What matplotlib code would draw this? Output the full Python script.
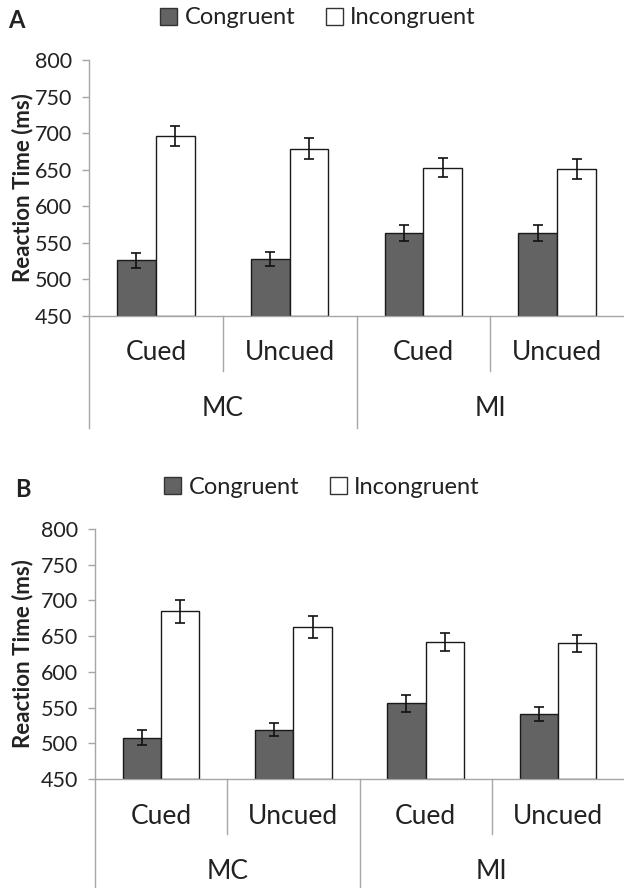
import numpy as np
import matplotlib
matplotlib.use("Agg")
from matplotlib import pyplot as plt
from matplotlib.patches import Patch
import matplotlib.transforms as mtransforms

plt.rcParams['font.family'] = ['Lato', 'DejaVu Sans']

cues = ['Cued', 'Uncued', 'Cued', 'Uncued']
groups = ['MC', 'MI']
yticks = [450, 500, 550, 600, 650, 700, 750, 800]

# panel A
con_A = [526, 528, 564, 563]
con_A_err = [10, 10, 11, 11]
inc_A = [696, 679, 653, 651]
inc_A_err = [14, 15, 13, 14]

# panel B
con_B = [508, 519, 556, 541]
con_B_err = [10, 9, 12, 10]
inc_B = [685, 663, 642, 640]
inc_B_err = [16, 15, 13, 12]

GREY = '#a6a6a6'
DARK = '#636363'

fig = plt.figure(figsize=(6.24, 8.88), dpi=100)


def panel(rect, con, con_err, inc, inc_err, letter, letter_xy, legend_xy):
    ax = fig.add_axes(rect)
    x = np.arange(len(cues)) + 0.5
    w = 0.29
    ax.bar(x - w / 2, np.array(con) - 450, w, bottom=450, color=DARK,
           edgecolor='#1a1a1a', linewidth=1.0, zorder=2)
    ax.bar(x + w / 2, np.array(inc) - 450, w, bottom=450, color='white',
           edgecolor='#1a1a1a', linewidth=1.0, zorder=2)
    ax.errorbar(x - w / 2, con, yerr=con_err, fmt='none', ecolor='#111111',
                elinewidth=1.2, capsize=3.5, capthick=1.2, zorder=3)
    ax.errorbar(x + w / 2, inc, yerr=inc_err, fmt='none', ecolor='#111111',
                elinewidth=1.2, capsize=3.5, capthick=1.2, zorder=3)

    ax.set_xlim(0, 4)
    ax.set_ylim(450, 800)
    ax.set_yticks(yticks)
    ax.set_xticks([])
    for s in ['top', 'right']:
        ax.spines[s].set_visible(False)
    for s in ['left', 'bottom']:
        ax.spines[s].set_color(GREY)
        ax.spines[s].set_linewidth(1.0)
    ax.tick_params(axis='y', direction='out', length=5, width=1.0, color=GREY,
                   labelsize=15.5, labelcolor='#222222', pad=7)

    h = rect[3] * 888
    short = -55 / h
    long_ = -112 / h
    trans = mtransforms.blended_transform_factory(ax.transData, ax.transAxes)
    for xs in [1, 3]:
        ax.axvline(xs, ymin=short, ymax=0, color=GREY, lw=1.0, clip_on=False)
    for xs in [0, 2]:
        ax.axvline(xs, ymin=long_, ymax=0, color=GREY, lw=1.0, clip_on=False)
    for xi, lab in zip(x, cues):
        ax.text(xi, -37 / h, lab, transform=trans, ha='center', va='center',
                fontsize=19, color='#222222')
    for gi, lab in enumerate(groups):
        ax.text(1 + 2 * gi, -92 / h, lab, transform=trans, ha='center',
                va='center', fontsize=19, color='#222222')

    fig.text(23 / 624, rect[1] + rect[3] / 2, 'Reaction Time (ms)', rotation=90,
             ha='center', va='center', fontsize=16, fontweight='bold',
             color='#222222')
    fig.text(letter_xy[0], letter_xy[1], letter, fontsize=17, fontweight='bold',
             ha='left', va='center', color='#222222')

    handles = [Patch(facecolor=DARK, edgecolor='#333333', lw=1.0),
               Patch(facecolor='white', edgecolor='#333333', lw=1.0)]
    ax.legend(handles, ['Congruent', 'Incongruent'], ncol=2, loc='center',
              bbox_to_anchor=legend_xy, bbox_transform=fig.transFigure,
              frameon=False, fontsize=17, handlelength=0.72,
              handleheight=0.72, handletextpad=0.3, columnspacing=1.3,
              labelcolor='#222222')
    return ax


panel([89 / 624, 1 - 316 / 888, 535 / 624, 256 / 888], con_A, con_A_err,
      inc_A, inc_A_err, 'A', (8 / 624, 1 - 20 / 888), (318 / 624, 1 - 18 / 888))
panel([95 / 624, 1 - 779 / 888, 529 / 624, 250 / 888], con_B, con_B_err,
      inc_B, inc_B_err, 'B', (15 / 624, 1 - 489 / 888), (322 / 624, 1 - 487 / 888))

fig.savefig('out.png', dpi=100, facecolor='white')
